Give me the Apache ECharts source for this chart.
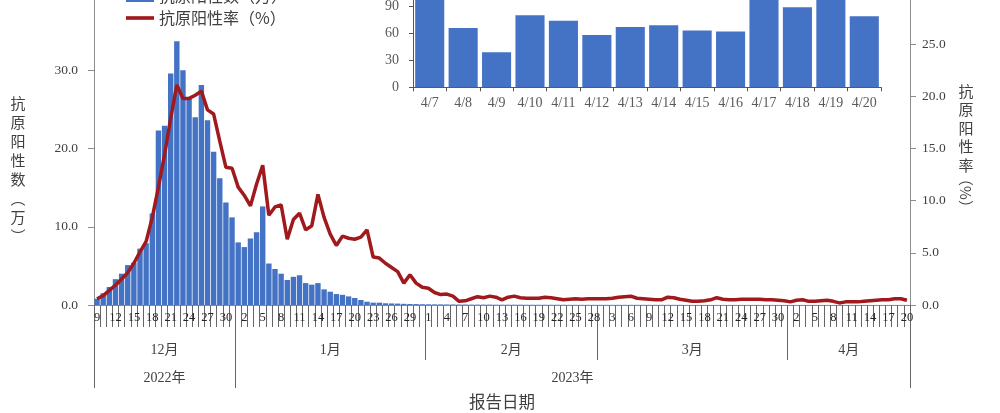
<!DOCTYPE html>
<html><head><meta charset="utf-8">
<script src="https://cdn.jsdelivr.net/npm/echarts@6/dist/echarts.min.js"></script>
<style>html,body{margin:0;padding:0;background:#fff}#c{width:1000px;height:413px}</style>
</head><body><div id="c"></div>
<script>
// ---- data ----
const months = ['12月', '1月', '2月', '3月', '4月'];
const monthFirstDay = [9, 1, 1, 1, 1];
const monthLastDay = [31, 31, 28, 31, 20];
const years = ['2022年', '2023年'];
const yearMonthCount = [1, 4];
const days = [];
months.forEach((m, k) => { for (let d = monthFirstDay[k]; d <= monthLastDay[k]; d++) days.push(String(d)); });

// 抗原阳性数（万）
const positiveCount = [
  // Dec 9-31
  0.8, 1.5, 2.3, 3.3, 4.0, 5.1, 5.4, 7.2, 7.9, 11.7, 22.3, 22.9, 29.6, 33.7, 30.0, 26.4, 24.0, 28.1, 23.6, 19.6, 16.2, 13.1, 11.2,
  // Jan
  8.0, 7.4, 8.5, 9.3, 12.6, 5.3, 4.6, 4.0, 3.2, 3.6, 3.8, 2.8, 2.6, 2.8, 2.0, 1.7, 1.4, 1.3, 1.1, 0.9, 0.64, 0.42, 0.3, 0.3, 0.22, 0.2, 0.18, 0.15, 0.13, 0.12, 0.1,
  // Feb
  0.09, 0.08, 0.08, 0.07, 0.07, 0.06, 0.06, 0.05, 0.05, 0.05, 0.05, 0.04, 0.04, 0.04, 0.04, 0.04, 0.03, 0.03, 0.03, 0.03, 0.03, 0.03, 0.03, 0.02, 0.02, 0.02, 0.02, 0.02,
  // Mar
  0.02, 0.02, 0.02, 0.02, 0.02, 0.02, 0.02, 0.02, 0.02, 0.02, 0.02, 0.02, 0.02, 0.02, 0.01, 0.01, 0.01, 0.01, 0.01, 0.01, 0.01, 0.01, 0.01, 0.01, 0.01, 0.01, 0.01, 0.01, 0.01, 0.01, 0.01,
  // Apr 1-20
  0.01, 0.01, 0.01, 0.01, 0.01, 0.01, 0.0105, 0.0066, 0.0039, 0.008, 0.0074, 0.0058, 0.0067, 0.0069, 0.0063, 0.0062, 0.0105, 0.0089, 0.0102, 0.0079
];

// 抗原阳性率（%）
const positiveRate = [
  // Dec 9-31
  0.6, 0.9, 1.4, 1.9, 2.5, 3.1, 4.0, 5.1, 6.1, 8.4, 11.3, 14.4, 17.9, 21.1, 19.8, 19.8, 20.1, 20.5, 18.7, 18.3, 15.7, 13.2, 13.1,
  // Jan
  11.3, 10.5, 9.5, 11.6, 13.4, 8.6, 9.4, 9.6, 6.3, 8.2, 8.8, 7.2, 7.6, 10.6, 8.4, 6.8, 5.7, 6.6, 6.4, 6.3, 6.5, 7.2, 4.6, 4.5, 4.0, 3.6, 3.2, 2.1, 2.9, 2.1, 1.7,
  // Feb
  1.6, 1.2, 1.0, 1.05, 0.85, 0.35, 0.4, 0.6, 0.8, 0.7, 0.85, 0.75, 0.5, 0.75, 0.85, 0.7, 0.65, 0.65, 0.65, 0.75, 0.7, 0.6, 0.5, 0.55, 0.6, 0.55, 0.6, 0.6,
  // Mar
  0.6, 0.6, 0.65, 0.75, 0.8, 0.85, 0.65, 0.6, 0.55, 0.5, 0.5, 0.75, 0.7, 0.55, 0.45, 0.35, 0.35, 0.4, 0.5, 0.7, 0.55, 0.5, 0.5, 0.55, 0.55, 0.55, 0.55, 0.5, 0.5, 0.45, 0.4,
  // Apr 1-20
  0.3, 0.45, 0.5, 0.35, 0.35, 0.4, 0.45, 0.35, 0.2, 0.3, 0.3, 0.3, 0.35, 0.4, 0.45, 0.5, 0.5, 0.6, 0.6, 0.45
];

const insetDates = ['4/7', '4/8', '4/9', '4/10', '4/11', '4/12', '4/13', '4/14', '4/15', '4/16', '4/17', '4/18', '4/19', '4/20'];
const insetValues = [102, 66, 39, 80, 74, 58, 67, 69, 63, 62, 105, 89, 101, 79];

const barName = '抗原阳性数（万）';
const lineName = '抗原阳性率（%）';

// ---- chart ----
const serif = 'Liberation Serif';
const cjk = 'Noto Sans CJK SC';
const axisGray = '#8c8c8c';
const tickGray = '#666';
const labelColor = '#404040';
const chart = echarts.init(document.getElementById('c'), null, { renderer: 'canvas' });

const option = {
  animation: false,
  backgroundColor: '#fff',
  legend: {
    data: [
      { name: barName, icon: 'rect' },
      { name: lineName, icon: 'path://M0,0H100V13H0Z' }
    ],
    orient: 'vertical',
    left: 121, top: -17,
    itemWidth: 28, itemHeight: 12, itemGap: 6,
    textStyle: { fontFamily: cjk, fontSize: 16, color: labelColor }
  },
  grid: [
    { left: 94, right: 90, top: -8, height: 313, outerBoundsMode: 'none' },
    { left: 413, right: 119, top: -20.7, height: 108, outerBoundsMode: 'none' }
  ],
  xAxis: [
    {
      type: 'category', gridIndex: 0, data: days,
      axisLine: { lineStyle: { color: axisGray } },
      axisTick: { show: true, interval: 0, length: 22, lineStyle: { color: tickGray } },
      axisLabel: { interval: 2, fontFamily: serif, fontSize: 12.5, color: '#262626', margin: 6 }
    },
    {
      type: 'category', gridIndex: 1, data: insetDates,
      axisLine: { lineStyle: { color: '#555' } },
      axisTick: { show: true, interval: 0, length: 4, lineStyle: { color: '#555' } },
      axisLabel: { fontFamily: serif, fontSize: 14, color: '#595959', margin: 9 }
    }
  ],
  yAxis: [
    {
      type: 'value', gridIndex: 0, min: 0, max: 40, interval: 10,
      axisLine: { show: true, lineStyle: { color: axisGray } },
      axisTick: { show: true, length: 6, lineStyle: { color: axisGray } },
      splitLine: { show: false },
      axisLabel: { formatter: v => v.toFixed(1), fontFamily: serif, fontSize: 13.5, color: labelColor, margin: 16 }
    },
    {
      type: 'value', gridIndex: 0, position: 'right', min: 0, max: 30, interval: 5,
      axisLine: { show: true, lineStyle: { color: axisGray } },
      axisTick: { show: true, length: 6, lineStyle: { color: axisGray } },
      splitLine: { show: false },
      axisLabel: { formatter: v => v.toFixed(1), fontFamily: serif, fontSize: 13.5, color: labelColor, margin: 12 }
    },
    {
      type: 'value', gridIndex: 1, min: 0, max: 120, interval: 30,
      axisLine: { show: true, lineStyle: { color: '#555' } },
      axisTick: { show: true, length: 4, lineStyle: { color: '#555' } },
      splitLine: { show: false },
      axisLabel: { fontFamily: serif, fontSize: 14, color: '#595959', margin: 14 }
    }
  ],
  series: [
    {
      name: barName, type: 'bar', xAxisIndex: 0, yAxisIndex: 0, data: positiveCount,
      itemStyle: { color: '#4472c4' }, barCategoryGap: '12%'
    },
    {
      name: lineName, type: 'line', xAxisIndex: 0, yAxisIndex: 1, data: positiveRate,
      symbol: 'none', lineStyle: { color: '#a0191d', width: 3.5 }, itemStyle: { color: '#a0191d' }, z: 5
    },
    {
      name: 'inset', type: 'bar', xAxisIndex: 1, yAxisIndex: 2, data: insetValues,
      itemStyle: { color: '#4472c4' }, barCategoryGap: '13%'
    }
  ]
};
chart.setOption(option);

// ---- month / year groupings below the axis, placed through the category scale ----
const px = i => chart.convertToPixel({ xAxisIndex: 0 }, i);
const band = px(1) - px(0);
const edge = k => px(k) - band / 2;              // left boundary of category k
const y0 = chart.convertToPixel({ yAxisIndex: 0 }, 0);
const g = [];
const sepStyle = { stroke: tickGray, lineWidth: 1 };
let start = 0;
const monthEdges = [0];
months.forEach((m, k) => {
  const n = monthLastDay[k] - monthFirstDay[k] + 1;
  const a = edge(start), b = edge(start + n);
  g.push({ type: 'text', x: (a + b) / 2, y: 350, style: { text: m, fill: labelColor, font: '14px ' + serif + ', ' + cjk, align: 'center', verticalAlign: 'middle' } });
  start += n;
  monthEdges.push(start);
});
let mIdx = 0;
const yearEdges = [0];
years.forEach((yName, k) => {
  const a = edge(monthEdges[mIdx]);
  mIdx += yearMonthCount[k];
  const b = edge(monthEdges[mIdx]);
  yearEdges.push(monthEdges[mIdx]);
  g.push({ type: 'text', x: (a + b) / 2, y: 378, style: { text: yName, fill: labelColor, font: '14px ' + serif + ', ' + cjk, align: 'center', verticalAlign: 'middle' } });
});
monthEdges.forEach(e => {
  const x = Math.round(edge(e)) + 0.5;
  const isYear = yearEdges.indexOf(e) >= 0;
  g.push({ type: 'line', shape: { x1: x, y1: y0, x2: x, y2: isYear ? 388 : 360 }, style: sepStyle });
});
g.push({ type: 'text', x: 502, y: 402, style: { text: '报告日期', fill: labelColor, font: '16.5px ' + cjk, align: 'center', verticalAlign: 'middle' } });
// axis names
g.push({ type: 'text', x: 18, y: 94, style: { text: '抗\n原\n阳\n性\n数\n︵\n万\n︶', fill: labelColor, font: '15px ' + cjk, lineHeight: 19, align: 'center', verticalAlign: 'top' } });
g.push({ type: 'text', x: 966, y: 82, style: { text: '抗\n原\n阳\n性\n率', fill: labelColor, font: '15px ' + cjk, lineHeight: 18.5, align: 'center', verticalAlign: 'top' } });
g.push({ type: 'text', x: 966, y: 193, rotation: -Math.PI / 2, style: { text: '（%）', fill: labelColor, font: '15px ' + cjk, align: 'center', verticalAlign: 'middle' } });
chart.setOption({ graphic: g });
</script>
</body></html>
